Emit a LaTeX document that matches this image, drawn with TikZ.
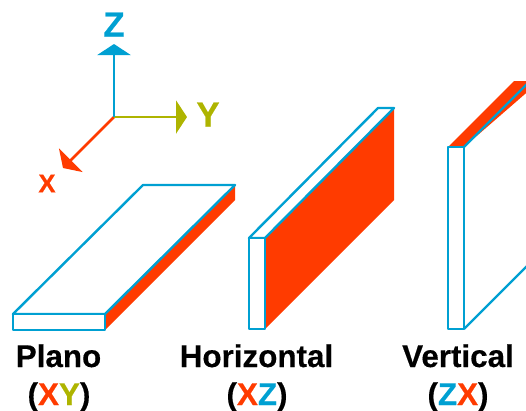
\documentclass[tikz,border=0pt]{standalone}
\usepackage{fontspec}
\setmainfont{Liberation Sans}
\newfontface\heavyface{Liberation Sans Bold}[FakeBold=0.4]
\usetikzlibrary{arrows.meta}
\definecolor{cblue}{HTML}{00A0D2}
\definecolor{cred}{HTML}{FF3B00}
\definecolor{colive}{HTML}{AEB400}
\tikzset{
  plate/.style={draw=cblue,line width=2.4bp,line join=round,fill=white},
  edge/.style={draw=cblue,line width=2.4bp},
  redface/.style={fill=cred},
  axis/.style={line width=2.8bp,-{Triangle[length=11bp,width=33bp]}},
  axlabel/.style={font=\fontsize{35}{35}\heavyface\selectfont,inner sep=0pt},
  caption/.style={font=\fontsize{31.5}{31.5}\heavyface\selectfont,inner sep=0pt,anchor=base},
}
\newcommand{\tblue}[1]{\textcolor{cblue}{#1}}
\newcommand{\tred}[1]{\textcolor{cred}{#1}}
\newcommand{\tolive}[1]{\textcolor{colive}{#1}}
\begin{document}
\begin{tikzpicture}[x=1bp,y=-1bp]
\useasboundingbox (0,0) rectangle (526,410);
\clip (0,0) rectangle (526,410);
% axes
\coordinate (o) at (114,117);
\coordinate (zt) at (114,44);
\coordinate (yt) at (187,117);
\coordinate (xt) at (63,168);
\draw[axis,cred] (o) -- (xt);
\draw[axis,colive] (o) -- (yt);
\draw[axis,cblue] (o) -- (zt);
\node[axlabel,text=cblue] (lz) at (114,24.5) {Z};
\node[axlabel,text=colive] (ly) at (208,114.5) {Y};
\node[axlabel,text=cred,font=\fontsize{26}{26}\heavyface\selectfont] (lx) at (47,183.5) {X};
% Plano
\fill[redface] (105,314) -- (235,185) -- (235,200) -- (105,330) -- cycle;
\draw[plate] (13,314) -- (143,185) -- (235,185) -- (105,314) -- cycle;
\draw[plate] (13,314) rectangle (105,330);
% Horizontal
\fill[redface] (265,238) -- (394,108) -- (394,200) -- (265,329) -- cycle;
\draw[plate] (249,238) -- (378,108) -- (394,108) -- (265,238) -- cycle;
\draw[plate] (249,238) rectangle (265,329);
% Vertical
\fill[redface] (448,147) -- (514,81) -- (540,81) -- (464,147) -- cycle;
\draw[edge] (464,147) -- (530,81);
\draw[edge] (464,329) -- (594,199);
\draw[plate] (448,147) rectangle (464,329);
% captions
\node[caption] (c1) at (58.5,367) {Plano};
\node[caption] (c1b) at (59,405) {(\tred{X}\tolive{Y})};
\node[caption] (c2) at (256.5,367) {Horizontal};
\node[caption] (c2b) at (257,405) {(\tred{X}\tblue{Z})};
\node[caption] (c3) at (458,367) {Vertical};
\node[caption] (c3b) at (458,405) {(\tblue{Z}\tred{X})};
\end{tikzpicture}
\end{document}
